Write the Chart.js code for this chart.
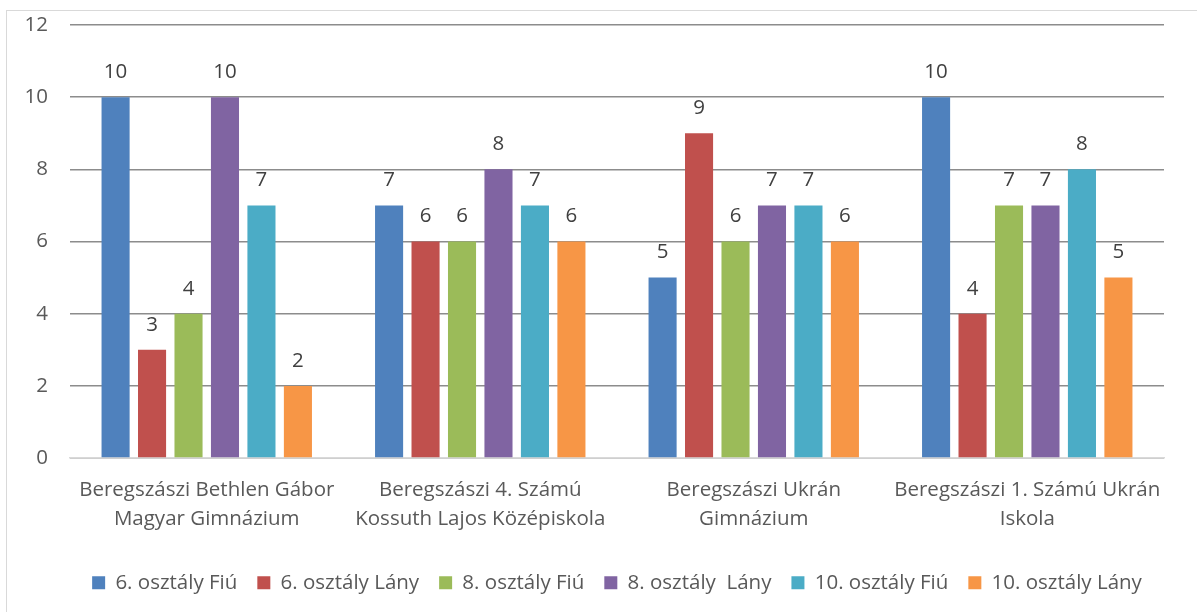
<!DOCTYPE html>
<html>
<head>
<meta charset="utf-8">
<script src="https://cdn.jsdelivr.net/npm/chart.js@4"></script>
<style>
  html, body { margin: 0; padding: 0; background: #fff; }
  #wrap { position: absolute; left: 0; top: 0; width: 1197px; height: 612px; }
</style>
</head>
<body>
<div id="wrap"><canvas id="chart" width="1197" height="612"></canvas></div>
<script>
// Adatok
const categories = [
    ['Beregszászi Bethlen Gábor', 'Magyar Gimnázium'],
    ['Beregszászi 4. Számú', 'Kossuth Lajos Középiskola'],
    ['Beregszászi Ukrán', 'Gimnázium'],
    ['Beregszászi 1. Számú Ukrán', 'Iskola']
];
const seriesNames = ['6. osztály Fiú', '6. osztály Lány', '8. osztály Fiú', '8. osztály  Lány', '10. osztály Fiú', '10. osztály Lány'];
const fiu6 = [10, 7, 5, 10];
const lany6 = [3, 6, 9, 4];
const fiu8 = [4, 6, 6, 7];
const lany8 = [10, 8, 7, 7];
const fiu10 = [7, 7, 7, 8];
const lany10 = [2, 6, 6, 5];
const yTicks = [0, 2, 4, 6, 8, 10, 12];

const colors = ['#4F81BD', '#C0504D', '#9BBB59', '#8064A2', '#4BACC6', '#F79646'];
const FONT = "'Open Sans', sans-serif";
const SIZE = 20.5;
const TEXT = '#595959';

const values = [fiu6, lany6, fiu8, lany8, fiu10, lany10];

// keret a diagram körül
const borderPlugin = {
    id: 'outerBorder',
    beforeDraw(chart) {
        const ctx = chart.ctx;
        ctx.save();
        ctx.fillStyle = '#fff';
        ctx.fillRect(0, 0, chart.width, chart.height);
        ctx.strokeStyle = '#d9d9d9';
        ctx.lineWidth = 1;
        ctx.strokeRect(6.5, 10.5, chart.width + 20, chart.height + 20);
        ctx.restore();
    }
};

// értékcímkék az oszlopok fölött
const labelPlugin = {
    id: 'valueLabels',
    afterDatasetsDraw(chart) {
        const ctx = chart.ctx;
        ctx.save();
        ctx.font = SIZE + 'px ' + FONT;
        ctx.fillStyle = '#404040';
        ctx.textAlign = 'center';
        ctx.textBaseline = 'middle';
        chart.data.datasets.forEach((ds, i) => {
            chart.getDatasetMeta(i).data.forEach((bar, j) => {
                ctx.fillText(String(ds.data[j]), bar.x, bar.y - 25);
            });
        });
        ctx.restore();
    }
};

new Chart(document.getElementById('chart'), {
    type: 'bar',
    data: {
        labels: categories,
        datasets: seriesNames.map((name, i) => ({
            label: name,
            data: values[i],
            backgroundColor: colors[i],
            borderWidth: 0,
            categoryPercentage: 0.8,
            barPercentage: 0.77
        }))
    },
    options: {
        responsive: false,
        animation: false,
        layout: { padding: { left: 14, right: 33, top: 25, bottom: 9 } },
        plugins: {
            tooltip: { enabled: false },
            legend: {
                position: 'bottom',
                fullSize: false,
                labels: {
                    font: { family: FONT, size: SIZE },
                    color: TEXT,
                    boxWidth: 13,
                    boxHeight: 13,
                    padding: 20
                }
            }
        },
        scales: {
            x: {
                grid: { display: false },
                border: { color: '#d9d9d9', width: 1.5 },
                afterFit(axis) { axis.height += 9; },
                ticks: {
                    font: { family: FONT, size: SIZE, lineHeight: 1.45 },
                    color: TEXT,
                    maxRotation: 0,
                    autoSkip: false,
                    padding: 9
                }
            },
            y: {
                min: 0,
                max: 12,
                afterBuildTicks(axis) {
                    axis.ticks = yTicks.map(v => ({ value: v }));
                },
                afterFit(axis) {
                    axis.width = 56;
                    axis.paddingTop = 0;
                },
                grid: {
                    color: '#8c8c8c',
                    lineWidth: 1.5,
                    drawTicks: false
                },
                border: { display: false },
                ticks: {
                    font: { family: FONT, size: SIZE },
                    color: TEXT,
                    padding: 22
                }
            }
        }
    },
    plugins: [borderPlugin, labelPlugin]
});
</script>
</body>
</html>
